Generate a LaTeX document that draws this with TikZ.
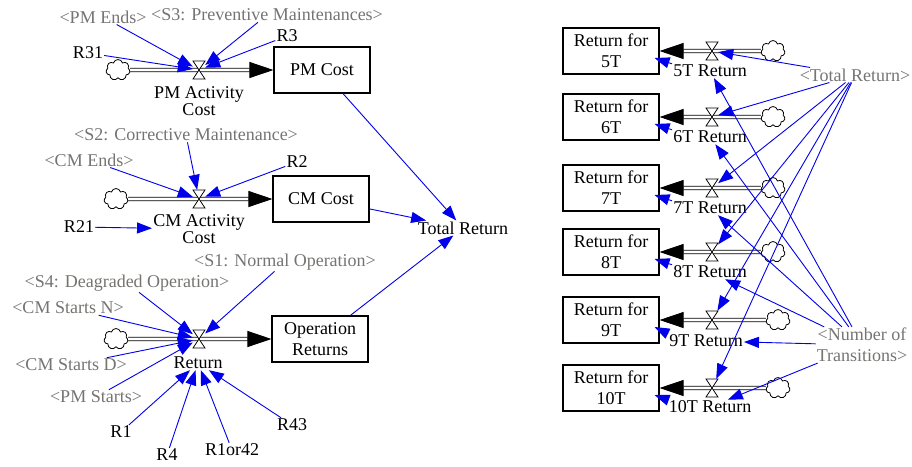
\documentclass[tikz,border=0pt]{standalone}
\usepackage{fontspec}
\setmainfont{Liberation Serif}
\usetikzlibrary{arrows.meta,shapes.symbols}

\definecolor{shadowgray}{RGB}{118,116,114}
\definecolor{linkblue}{RGB}{0,0,235}

\begin{document}
\begin{tikzpicture}[x=1pt,y=-1pt,
  font=\fontsize{18}{21}\selectfont,
  stock/.style={draw, line width=1.1pt, minimum width=96pt, minimum height=46pt, align=center, inner sep=1pt},
  rate/.style={align=center, inner sep=1pt, font=\fontsize{18}{15}\selectfont},
  shadow/.style={text=shadowgray, inner sep=1pt, align=center},
  aux/.style={inner sep=1pt},
  valve/.style={minimum width=12pt, minimum height=18pt, inner sep=0pt},
  source/.style={cloud, cloud puffs=7, cloud ignores aspect, draw, line width=0.8pt, fill=white, minimum width=24pt, minimum height=21pt, inner sep=0pt},
  link/.style={linkblue, line width=0.9pt, -{Triangle[length=15pt,width=11pt]}},
  pipe/.style={double, double distance=2.6pt, line width=0.9pt, -{Triangle[length=24pt,width=16pt]}}
]
  \useasboundingbox (0,0) rectangle (912,466);

  % PM cost flow
  \node[source] (cpm) at (118,70) {};
  \node[valve] (vpm) at (199,70) {};
  \node[stock] (pm) at (322,70) {PM Cost};
  \node[rate] (pmlab) at (199,101) {PM Activity\\Cost};
  \node[shadow] (pmend) at (103,17) {<PM Ends>};
  \node[shadow] (sthree) at (267,15) {<S3: Preventive Maintenances>};
  \node[aux] (rthreeone) at (88,53) {R31};
  \node[aux] (rthree) at (287,36) {R3};

  % CM cost flow
  \node[source] (ccm) at (116,199) {};
  \node[valve] (vcm) at (199,199) {};
  \node[stock] (cm) at (321,199) {CM Cost};
  \node[rate] (cmlab) at (199,229) {CM Activity\\Cost};
  \node[shadow] (stwo) at (186,135) {<S2: Corrective Maintenance>};
  \node[shadow] (cmend) at (89,160) {<CM Ends>};
  \node[aux] (rtwo) at (297,162) {R2};
  \node[aux] (rtwoone) at (79,227) {R21};

  % total
  \node[aux] (tot) at (463,228) {Total Return};

  % operation return flow
  \node[source] (cret) at (116,339) {};
  \node[valve] (vret) at (199,339) {};
  \node[stock] (opr) at (320,339) {Operation\\Returns};
  \node[rate] (retlab) at (198,363) {Return};
  \node[shadow] (sone) at (285,262) {<S1: Normal Operation>};
  \node[shadow] (sfour) at (127,283) {<S4: Deagraded Operation>};
  \node[shadow] (cmsn) at (68,308) {<CM Starts N>};
  \node[shadow] (cmsd) at (71,365) {<CM Starts D>};
  \node[shadow] (pms) at (96,397) {<PM Starts>};
  \node[aux] (rone) at (121,432) {R1};
  \node[aux] (rfour) at (167,455) {R4};
  \node[aux] (roneor) at (232,450) {R1or42};
  \node[aux] (rfourthree) at (292,425) {R43};

  % right side stocks
  \node[stock] (s5) at (611,51) {Return for\\5T};
  \node[stock] (s6) at (611,117) {Return for\\6T};
  \node[stock] (s7) at (611,188) {Return for\\7T};
  \node[stock] (s8) at (611,252) {Return for\\8T};
  \node[stock] (s9) at (611,320) {Return for\\9T};
  \node[stock] (s10) at (611,388) {Return for\\10T};

  \node[valve] (v5) at (712,51) {};
  \node[valve] (v6) at (712,117) {};
  \node[valve] (v7) at (712,188) {};
  \node[valve] (v8) at (712,252) {};
  \node[valve] (v9) at (712,320) {};
  \node[valve] (v10) at (712,388) {};

  \node[source] (c5) at (773,51) {};
  \node[source] (c6) at (773,117) {};
  \node[source] (c7) at (773,188) {};
  \node[source] (c8) at (773,252) {};
  \node[source] (c9) at (778,320) {};
  \node[source] (c10) at (778,388) {};

  \node[rate] (r5) at (710,71) {5T Return};
  \node[rate] (r6) at (710,137) {6T Return};
  \node[rate] (r7) at (710,208) {7T Return};
  \node[rate] (r8) at (710,272) {8T Return};
  \node[rate] (r9) at (706,341) {9T Return};
  \node[rate] (r10) at (710,407) {10T Return};

  \node[shadow] (tr) at (855,75) {<Total Return>};
  \node[shadow] (nt) at (862,345) {<Number of\\Transitions>};

  % pipes
  \draw[pipe] (cpm) -- (pm);
  \draw[pipe] (ccm) -- (cm);
  \draw[pipe] (cret) -- (opr);
  \draw[pipe] (c5) -- (s5);
  \draw[pipe] (c6) -- (s6);
  \draw[pipe] (c7) -- (s7);
  \draw[pipe] (c8) -- (s8);
  \draw[pipe] (c9) -- (s9);
  \draw[pipe] (c10) -- (s10);

  % valves
  \foreach \v in {vpm,vcm,vret,v5,v6,v7,v8,v9,v10}
    \filldraw[fill=white, line width=0.8pt, shift={(\v)}] (-6,-9) -- (6,-9) -- (-6,9) -- (6,9) -- cycle;

  % links, left
  \draw[link] (rthreeone) -- (vpm);
  \draw[link] (pmend) -- (vpm);
  \draw[link] (sthree) -- (vpm);
  \draw[link] (rthree) -- (vpm);
  \draw[link] (cmend) -- (vcm);
  \draw[link] (stwo) -- (vcm);
  \draw[link] (rtwo) -- (vcm);
  \draw[link] (rtwoone) -- (cmlab);
  \draw[link] (sone) -- (vret);
  \draw[link] (sfour) -- (vret);
  \draw[link] (cmsn) -- (vret);
  \draw[link] (cmsd) -- (vret);
  \draw[link] (pms) -- (vret);
  \draw[link] (rone) -- (retlab);
  \draw[link] (rfour) -- (retlab);
  \draw[link] (roneor) -- (retlab);
  \draw[link] (rfourthree) -- (retlab);
  \draw[link] (pm) -- (tot);
  \draw[link] (cm) -- (tot);
  \draw[link] (opr) -- (tot);

  % links, right
  \draw[link] (tr) -- (v5);
  \draw[link] (tr) -- (v6);
  \draw[link] (tr) -- (v7);
  \draw[link] (tr) -- (v8);
  \draw[link] (tr) -- (v9);
  \draw[link] (tr) -- (v10);
  \draw[link] (nt) -- (r5);
  \draw[link] (nt) -- (r6);
  \draw[link] (nt) -- (r7);
  \draw[link] (nt) -- (r8);
  \draw[link] (nt) -- (r9);
  \draw[link] (nt) -- (r10);
  \draw[link] (r5.north west) -- ([shift={(-5,7)}]s5.east);
  \draw[link] (r6.north west) -- ([shift={(-5,7)}]s6.east);
  \draw[link] (r7.north west) -- ([shift={(-5,7)}]s7.east);
  \draw[link] (r8.north west) -- ([shift={(-5,7)}]s8.east);
  \draw[link] (r9.north west) -- ([shift={(-5,7)}]s9.east);
  \draw[link] (r10.north west) -- ([shift={(-5,7)}]s10.east);
\end{tikzpicture}
\end{document}
